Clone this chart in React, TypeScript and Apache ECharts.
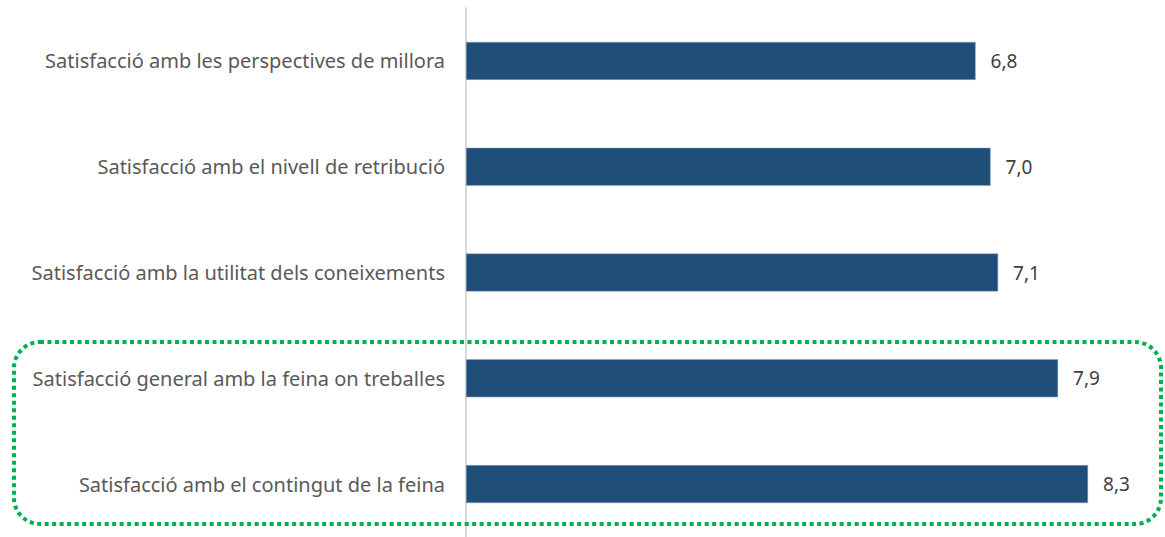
import React, { useEffect, useRef } from "react";
import * as echarts from "echarts";

const categories = [
  "Satisfacció amb les perspectives de millora",
  "Satisfacció amb el nivell de retribució",
  "Satisfacció amb la utilitat dels coneixements",
  "Satisfacció general amb la feina on treballes",
  "Satisfacció amb el contingut de la feina",
];
const values = [6.8, 7.0, 7.1, 7.9, 8.3];

export default function App() {
  const ref = useRef<HTMLDivElement>(null);
  useEffect(() => {
    if (!ref.current) return;
    const chart = echarts.init(ref.current, null, { renderer: "svg" });
    chart.setOption({
      animation: false,
      grid: { left: 466, right: 20, top: 8, bottom: -6, containLabel: false },
      xAxis: {
        type: "value",
        min: 0,
        max: 9.06,
        show: false,
      },
      yAxis: {
        type: "category",
        data: categories,
        inverse: true,
        axisLine: { show: true, lineStyle: { color: "#d9d9d9", width: 2 } },
        axisTick: { show: false },
        axisLabel: {
          color: "#595959",
          fontFamily: "Noto Sans",
          fontSize: 20,
          margin: 21,
        },
      },
      series: [
        {
          type: "bar",
          data: values,
          barWidth: 38,
          itemStyle: { color: "#1f4e79", borderColor: "#8ea9c8", borderWidth: 0.5 },
          label: {
            show: true,
            position: "right",
            distance: 15,
            color: "#404040",
            fontFamily: "Noto Sans",
            fontSize: 19,
            formatter: (p: any) => p.value.toFixed(1).replace(".", ","),
          },
        },
      ],
      graphic: [
        {
          type: "rect",
          shape: { x: 14, y: 342, width: 1147, height: 182, r: 26 },
          style: {
            fill: "none",
            stroke: "#00b050",
            lineWidth: 4,
            lineDash: [4, 3.5],
          },
          z: 10,
        },
      ],
    });
    return () => chart.dispose();
  }, []);
  return (
    <div
      ref={ref}
      style={{ position: "fixed", left: 0, top: 0, width: 1165, height: 537, background: "#fff" }}
    />
  );
}
